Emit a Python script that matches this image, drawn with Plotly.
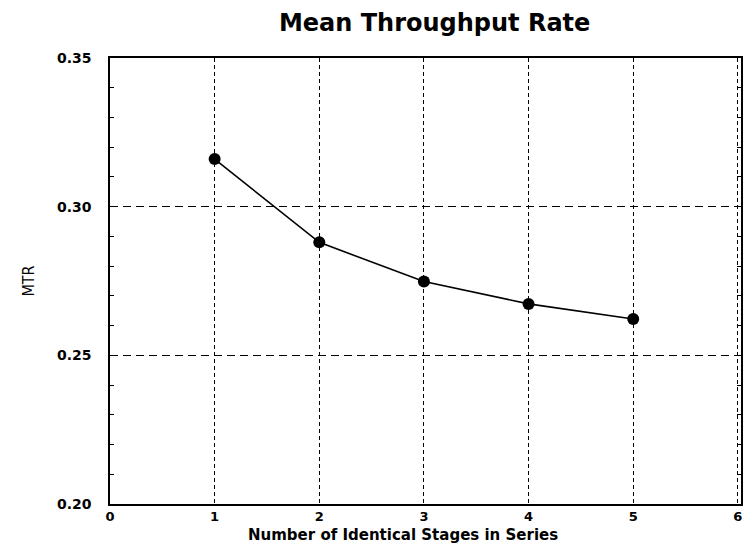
import plotly.graph_objects as go

stages = [1, 2, 3, 4, 5]
mtr = [0.316, 0.288, 0.2748, 0.2673, 0.2622]

title_text = "Mean Throughput Rate"
x_title = "Number of Identical Stages in Series"
y_title = "MTR"

FONT = "DejaVu Sans, Verdana, sans-serif"

fig = go.Figure()
fig.add_trace(go.Scatter(
    x=stages, y=mtr, mode="lines+markers",
    line=dict(color="black", width=1.6),
    marker=dict(color="black", size=12, symbol="circle"),
    showlegend=False,
))

fig.update_layout(
    width=743, height=543,
    margin=dict(l=110, r=0, t=58, b=39),
    paper_bgcolor="white", plot_bgcolor="white",
    title=dict(text=title_text, x=0.585, xanchor="center", y=0.958, yanchor="middle",
               font=dict(family=FONT, size=24, color="black", weight="bold")),
    font=dict(family=FONT, color="black"),
    annotations=[dict(
        text=x_title, xref="paper", yref="paper", x=0.4645, y=0,
        xanchor="center", yanchor="top", yshift=-20, showarrow=False,
        font=dict(family=FONT, size=15, color="black", weight="bold"),
    )],
)

fig.update_xaxes(
    range=[0, 6.03], tickmode="linear", tick0=0, dtick=1,
    showgrid=True, gridcolor="black", gridwidth=1, griddash="4px,3px",
    showline=True, linecolor="black", linewidth=1.5, mirror=True,
    ticks="", zeroline=False, ticklabelstandoff=0,
    tickfont=dict(family=FONT, size=13, color="black", weight="bold"),
)

fig.update_yaxes(
    range=[0.20, 0.35], tickmode="linear", tick0=0.20, dtick=0.05,
    tickformat=".2f",
    showgrid=True, gridcolor="black", gridwidth=1, griddash="8px,5px",
    showline=True, linecolor="black", linewidth=1.5, mirror="allticks",
    ticks="", zeroline=False, ticklabelstandoff=14,
    minor=dict(dtick=0.01, tick0=0.20, ticks="inside", ticklen=4,
               tickcolor="black", tickwidth=1, showgrid=False),
    tickfont=dict(family=FONT, size=14, color="black", weight="bold"),
    title=dict(text=y_title, standoff=18,
               font=dict(family="DejaVu Sans Condensed, Liberation Sans Narrow, sans-serif",
                         size=16, color="black")),
)

fig.write_html("out.html")
